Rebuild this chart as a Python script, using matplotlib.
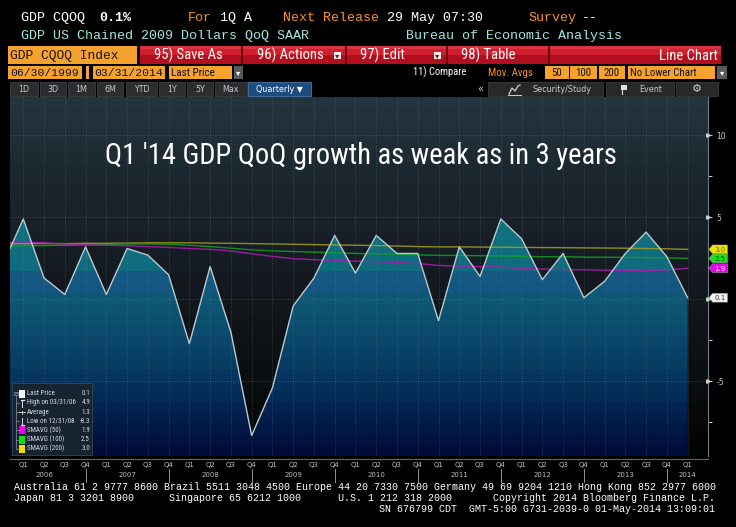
import numpy as np
import matplotlib
matplotlib.use('Agg')
import matplotlib.pyplot as plt
from matplotlib.patches import Polygon, Rectangle
from matplotlib.colors import LinearSegmentedColormap
import matplotlib.transforms as mtrans
from matplotlib import font_manager as fm

# ---------------- data ----------------
# quarter index: -1 = Q4 2005 ... 32 = Q1 2014
quarter_index = list(range(-1, 33))
gdp_qoq = [2.1, 4.9, 1.3, 0.3, 3.2, 0.3, 3.1, 2.7, 1.5, -2.7, 2.0, -2.0, -8.3, -5.4,
           -0.4, 1.3, 3.9, 1.6, 3.9, 2.8, 2.8, -1.3, 3.2, 1.4, 4.9, 3.7, 1.2, 2.8,
           0.1, 1.1, 2.8, 4.1, 2.6, 0.1]
smavg_50 = [3.45, 3.50, 3.45, 3.38, 3.33, 3.30, 3.27, 3.22, 3.17, 3.10, 3.05, 2.95,
            2.78, 2.62, 2.48, 2.42, 2.38, 2.33, 2.30, 2.25, 2.18, 2.07, 2.03, 2.00,
            1.97, 1.88, 1.85, 1.82, 1.80, 1.78, 1.76, 1.75, 1.80, 1.90]
smavg_100 = [3.25, 3.27, 3.28, 3.30, 3.32, 3.35, 3.38, 3.38, 3.36, 3.30, 3.22, 3.12,
             3.02, 2.96, 2.92, 2.88, 2.85, 2.80, 2.78, 2.75, 2.72, 2.68, 2.68, 2.66,
             2.65, 2.63, 2.60, 2.60, 2.58, 2.57, 2.56, 2.55, 2.53, 2.50]
smavg_200 = [3.40, 3.40, 3.40, 3.40, 3.42, 3.42, 3.43, 3.45, 3.45, 3.45, 3.43, 3.42,
             3.40, 3.38, 3.36, 3.34, 3.32, 3.30, 3.28, 3.25, 3.22, 3.20, 3.20, 3.19,
             3.18, 3.17, 3.16, 3.15, 3.14, 3.13, 3.12, 3.10, 3.08, 3.05]
tick_quarters = ['Q1', 'Q2', 'Q3', 'Q4'] * 8 + ['Q1']
years = ['2006', '2007', '2008', '2009', '2010', '2011', '2012', '2013', '2014']
y_ticks = [10, 5, 0, -5]
y_ticklabels = ['10', '5', '', '-5']   # the 0 label is hidden behind the last-price tag
y_minor = [7.5, 2.5, -2.5, -7.5]
legend_labels = ['Last Price', 'High on 03/31/06', 'Average', 'Low on 12/31/08',
                 'SMAVG (50)', 'SMAVG (100)', 'SMAVG (200)']
legend_values = ['0.1', '4.9', '1.3', '-8.3', '1.9', '2.5', '3.0']
title = "Q1 '14 GDP QoQ growth as weak as in 3 years"

# ---------------- fonts ----------------
def has_font(name):
    try:
        fm.findfont(fm.FontProperties(family=name), fallback_to_default=False)
        return True
    except Exception:
        return False

MONO = 'Liberation Mono' if has_font('Liberation Mono') else 'DejaVu Sans Mono'
NARROW = 'DejaVu Sans'
for cand in ['Liberation Sans Narrow', 'Roboto Condensed', 'Open Sans Condensed', 'Roboto']:
    if has_font(cand):
        NARROW = cand
        break
SANS = 'DejaVu Sans'

# ---------------- figure ----------------
W, H = 736, 527
fig = plt.figure(figsize=(W / 100, H / 100), dpi=100, facecolor='black')
PL, PR, PT, PB = 10, 708, 97, 456
ax = fig.add_axes([PL / W, 1 - PB / H, (PR - PL) / W, (PB - PT) / H], zorder=1)
ax.set_facecolor('black')
YLO, YHI = -9.55, 12.34
XLO, XHI = -0.64, 32.98

xk = np.array(quarter_index, dtype=float)
gdp = np.array(gdp_qoq)

# background (banded gradient)
BG_STOPS = [(-9.55, '#020303'), (-7.5, '#070909'), (-5, '#0b0e10'), (-2.5, '#0f1316'),
            (0, '#12171c'), (2.5, '#161c24'), (5, '#19212a'), (7.5, '#1c262e'),
            (10, '#1f2d36'), (12.34, '#24343e')]
FILL_STOPS = [(-9.55, '#000d38'), (-8, '#021a48'), (-6, '#052b57'), (-4, '#083d64'),
              (-2, '#0b4c6e'), (0, '#0e5874'), (0.4, '#135680'), (1.9, '#165a84'),
              (2.15, '#0f6e7e'), (5, '#11727e'), (12.34, '#157a85')]
NB = 33

def band_img(stops):
    cm = LinearSegmentedColormap.from_list(
        'g', [((v - YLO) / (YHI - YLO), c) for v, c in stops])
    return cm(np.linspace(0, 1, NB))[:, None, :]

ax.imshow(band_img(BG_STOPS), extent=[XLO, XHI, YLO, YHI], origin='lower',
          aspect='auto', interpolation='nearest', zorder=0)
verts = [(xk[0], YLO)] + list(zip(xk, gdp)) + [(xk[-1], YLO)]
poly = Polygon(verts, closed=True, fc='none', ec='none', transform=ax.transData)
ax.add_patch(poly)
im = ax.imshow(band_img(FILL_STOPS), extent=[XLO, XHI, YLO, YHI], origin='lower',
               aspect='auto', interpolation='nearest', zorder=1)
im.set_clip_path(poly)

# grid
for k in range(0, 33):
    ax.axvline(k, color='#6a7c88', lw=0.6, ls=(0, (1, 2)), alpha=0.55, zorder=2)
for v in y_ticks:
    ax.axhline(v, color='#6a7c88', lw=0.6, ls=(0, (1, 2)), alpha=0.6, zorder=2)

# moving averages and price line
ax.plot(xk, smavg_200, color='#a6a21a', lw=1.0, alpha=0.85, zorder=3)
ax.plot(xk, smavg_100, color='#14a022', lw=1.0, alpha=0.85, zorder=3)
ax.plot(xk, smavg_50, color='#b01cb0', lw=1.0, alpha=0.85, zorder=3)
ax.plot(xk, gdp, color='#b8cad2', lw=1.0, zorder=4)

ax.set_xlim(XLO, XHI)
ax.set_ylim(YLO, YHI)

# axes styling
for s in ['top', 'left', 'bottom']:
    ax.spines[s].set_visible(False)
ax.spines['right'].set_color('#6e7c86')
ax.spines['right'].set_linewidth(0.8)
ax.yaxis.tick_right()
ax.set_yticks(y_ticks)
ax.set_yticklabels(y_ticklabels)
ax.set_yticks(y_minor, minor=True)
ax.tick_params(axis='y', which='both', colors='#d0d0d0', length=3, width=0.7,
               labelsize=5.5, pad=3, labelcolor='#c8c8c8')
ax.set_xticks(range(0, 33))
ax.set_xticklabels(tick_quarters)
ax.tick_params(axis='x', length=0, pad=4.5, labelsize=5.0, labelcolor='#b8c0c8')
for lab in ax.get_xticklabels() + ax.get_yticklabels():
    lab.set_family(SANS)

blend_yd = mtrans.blended_transform_factory(ax.transAxes, ax.transData)
blend_xd = mtrans.blended_transform_factory(ax.transData, ax.transAxes)
ax.plot([1.0] * len(y_ticks), y_ticks, transform=blend_yd, marker='>', ms=2.5,
        color='#d0d0d0', ls='none', clip_on=False, zorder=6)

ph = PB - PT
# x axis line, year labels and separators
ax.plot([0, 1], [-3 / ph, -3 / ph], transform=ax.transAxes, color='#5c6870', lw=0.8,
        clip_on=False)
for i, yr in enumerate(years):
    kpos = 4 * i + 1 if i < len(years) - 1 else 4 * i
    ax.text(kpos, -19 / ph, yr, transform=blend_xd, ha='center', va='center',
            fontsize=5.0, color='#b8c0c8', family=SANS)
for i in range(len(years) - 1):
    ax.plot([4 * i + 3] * 2, [-13 / ph, -26 / ph], transform=blend_xd, color='#8a949c',
            lw=0.7, clip_on=False)

# title
t = ax.text((361 - PL) / (PR - PL), (PB - 164.5) / ph, title, transform=ax.transAxes,
            ha='center', va='baseline', color='white', fontsize=19, family=NARROW,
            zorder=8)
fig.canvas.draw()
r = fig.canvas.get_renderer()
wpx = t.get_window_extent(r).width
t.set_fontsize(19 * 512 / wpx)

# ---------------- overlay (header, legend, footer) ----------------
ov = fig.add_axes([0, 0, 1, 1], zorder=5)
ov.set_xlim(0, W)
ov.set_ylim(H, 0)
ov.axis('off')
ov.patch.set_alpha(0)

def T(x, y, s, c='white', size=9.6, fam=MONO, ha='left', va='center', weight='normal'):
    ov.text(x, y, s, color=c, fontsize=size, family=fam, ha=ha, va=va, fontweight=weight)

def R(x0, x1, y0, y1, fc, ec='none', lw=0.0, alpha=1.0):
    ov.add_patch(Rectangle((x0, y0), x1 - x0, y1 - y0, fc=fc, ec=ec, lw=lw, alpha=alpha))

# value tags on the right (positions from the data through the axes transform)
tag_vals = [smavg_200[-1], smavg_100[-1], smavg_50[-1], gdp_qoq[-1]]
tag_labs = [legend_values[6], legend_values[5], legend_values[4], legend_values[0]]
tag_fc = ['#f2e600', '#1fe01f', '#f000f0', '#f4f4f4']
tag_tc = ['#555500', '#0a500a', '#ffffff', '#333333']
for v, lab, fc, tc in zip(tag_vals, tag_labs, tag_fc, tag_tc):
    yc = H - ax.transData.transform((0, v))[1]
    ov.add_patch(Polygon([(PR + 1, yc), (PR + 4.5, yc - 4.4), (PR + 19.5, yc - 4.4),
                          (PR + 19.5, yc + 4.4), (PR + 4.5, yc + 4.4)], closed=True,
                         fc=fc, ec='#909090', lw=0.4))
    T(PR + 12, yc + 0.3, lab, tc, size=5.0, fam=SANS, ha='center')

ORANGE_T = '#f7941e'
CYAN_T = '#a3e6de'
# row 1
T(21, 18, 'GDP CQOQ')
T(99, 18, '0.1%', weight='bold')
T(188, 18, 'For', ORANGE_T)
T(220, 18, '1Q A')
T(283, 18, 'Next Release', ORANGE_T)
T(387, 18, '29 May 07:30')
T(528, 18, 'Survey', ORANGE_T)
T(582, 18, '--')
# row 2
T(21, 36, 'GDP US Chained 2009 Dollars QoQ SAAR', CYAN_T)
T(406, 36, 'Bureau of Economic Analysis', CYAN_T)

# row 3
ORANGE = '#f6a22e'
R(8, 137, 46, 64, ORANGE)
T(10, 55.5, 'GDP CQOQ Index', '#1a1208', size=9.4)
red_boxes = [(140, 240, '95) Save As'), (243, 344, '96) Actions'),
             (346, 445, '97) Edit'), (447, 547, '98) Table')]
R(140, 721, 46, 64, '#b10f1d')
R(140, 721, 46, 55, '#d0202e')
R(140, 721, 46, 49, '#e04050', alpha=0.6)
for x0, x1, lab in red_boxes:
    ov.plot([x1 + 1.5, x1 + 1.5], [46, 64], color='#5a0008', lw=1.2)
BTN_FAM = NARROW if NARROW != 'Roboto' else SANS
for x0, x1, lab in red_boxes:
    T(x0 + 14, 55.5, lab, 'white', size=10.5, fam=BTN_FAM)
for xd in (337.5, 437.5):
    R(xd - 3.5, xd + 3.5, 52, 59, '#f0f0f0')
    T(xd, 55.8, '\u25be', '#8a1010', size=6, fam=SANS, ha='center')
T(718, 55.5, 'Line Chart', 'white', size=10.5, fam=BTN_FAM, ha='right')

# row 4
R(8, 82, 66, 79, ORANGE)
R(86, 89, 66, 79, ORANGE)
R(92.5, 165, 66, 79, ORANGE)
R(169, 232, 66, 79, ORANGE)
R(234, 243, 66, 79, '#5a5a5a')
T(10, 72.5, '06/30/1999', '#111111', size=8.2)
T(94, 72.5, '03/31/2014', '#111111', size=8.2)
T(171, 72.5, 'Last Price', '#111111', size=8.0, fam=BTN_FAM)
T(238.5, 73, '\u25be', 'white', size=6, fam=SANS, ha='center')
T(413, 72.5, '11) Compare', 'white', size=7.6, fam=BTN_FAM)
T(488, 72.5, 'Mov. Avgs', ORANGE_T, size=7.8, fam=BTN_FAM)
R(545, 569, 66, 79, ORANGE)
R(570, 597, 66, 79, ORANGE)
R(599, 625, 66, 79, ORANGE)
R(628, 715, 66, 79, ORANGE)
R(717, 727, 66, 79, '#5a5a5a')
T(557, 72.5, '50', '#111111', size=7.8, fam=BTN_FAM, ha='center')
T(583.5, 72.5, '100', '#111111', size=7.8, fam=BTN_FAM, ha='center')
T(612, 72.5, '200', '#111111', size=7.8, fam=BTN_FAM, ha='center')
T(630, 72.5, 'No Lower Chart', '#111111', size=7.8, fam=BTN_FAM)
T(722, 73, '\u25be', 'white', size=6, fam=SANS, ha='center')

# row 5 (tabs)
tabs = [(10, 38, '1D'), (40, 66, '3D'), (68, 95, '1M'), (97, 123, '6M'), (126, 157, 'YTD'),
        (159, 185, '1Y'), (187, 213, '5Y'), (215, 247, 'Max')]
for x0, x1, lab in tabs:
    R(x0, x1, 82, 96, '#2b2d2f', ec='#3e4144', lw=0.6)
    T((x0 + x1) / 2, 89.3, lab, '#c4c8cc', size=5.8, fam=SANS, ha='center')
R(248, 311, 82, 96, '#1f4c7e', ec='#4a78a8', lw=0.6)
T(279.5, 89.3, 'Quarterly \u25bc', 'white', size=5.8, fam=SANS, ha='center')
T(480, 88.5, '\u00ab', '#d0d0d0', size=7, fam=SANS, ha='center')
for x0, x1 in [(488, 603), (606, 674), (676, 718)]:
    R(x0, x1, 82, 96, '#262829', ec='#3a3c3e', lw=0.6)
T(562, 89.3, 'Security/Study', '#c8cccf', size=5.8, fam=SANS, ha='center')
ov.plot([509, 512, 515, 518, 520], [94, 88, 91, 86, 85], color='#d0d0d0', lw=0.9)
ov.plot([508, 521], [94.5, 94.5], color='#d0d0d0', lw=0.7)
T(651, 89.3, 'Event', '#c8cccf', size=5.8, fam=SANS, ha='center')
R(621, 627, 85, 90, '#e0e0e0')
ov.plot([621.5, 621.5], [85, 94], color='#e0e0e0', lw=0.8)
T(697, 89, '\u2699', '#d0d0d0', size=8, fam=SANS, ha='center')

# legend box
R(12, 92, 383, 455, '#19242e', ec='#3c4852', lw=0.6, alpha=0.92)
ly = [393.7, 403.0, 412.2, 421.2, 430.2, 439.5, 448.8]
LC = '#d6dce2'
for yy, lab, val in zip(ly, legend_labels, legend_values):
    T(27, yy, lab, LC, size=5.0, fam=BTN_FAM)
    T(90, yy, val, LC, size=5.0, fam=BTN_FAM, ha='right')
R(14.3, 17.6, 391.5, 394.8, 'none', ec='#8a96a0', lw=0.5)
ov.plot([15.2, 16.8], [393.15, 393.15], color='#8a96a0', lw=0.5)
ov.plot([15.95, 15.95], [395, 449], color='#8a96a0', lw=0.5)
for yy in ly[1:]:
    ov.plot([15.95, 19], [yy, yy], color='#8a96a0', lw=0.5)
R(19.3, 25, 389.5, 397.8, '#f4f4f4')
ov.plot([22, 22], [399.5, 406.5], color='#e0e0e0', lw=0.7)
ov.plot([20.5, 23.5], [399.5, 399.5], color='#e0e0e0', lw=0.9)
ov.plot([19, 25], [412.2, 412.2], color='#e0e0e0', lw=0.6)
ov.plot([22, 22], [410.5, 413.9], color='#e0e0e0', lw=0.6)
ov.plot([22, 22], [417.5, 424.5], color='#e0e0e0', lw=0.7)
ov.plot([20.5, 23.5], [424.5, 424.5], color='#e0e0e0', lw=0.9)
for yy, c in zip(ly[4:], ['#f000f0', '#10e010', '#f0e000']):
    R(19.3, 25, yy - 4, yy + 4, c)

# footer
FS = 7.16
T(14, 487, 'Australia 61 2 9777 8600 Brazil 5511 3048 4500 Europe 44 20 7330 7500 '
  'Germany 49 69 9204 1210 Hong Kong 852 2977 6000', size=FS)
T(14, 498, 'Japan 81 3 3201 8900', size=FS)
T(169, 498, 'Singapore 65 6212 1000', size=FS)
T(338, 498, 'U.S. 1 212 318 2000', size=FS)
T(715, 498, 'Copyright 2014 Bloomberg Finance L.P.', size=FS, ha='right')
T(715, 509, 'SN 676799 CDT  GMT-5:00 G731-2039-0 01-May-2014 13:09:01', size=FS, ha='right')

fig.savefig('out.png', dpi=100, facecolor='black')
